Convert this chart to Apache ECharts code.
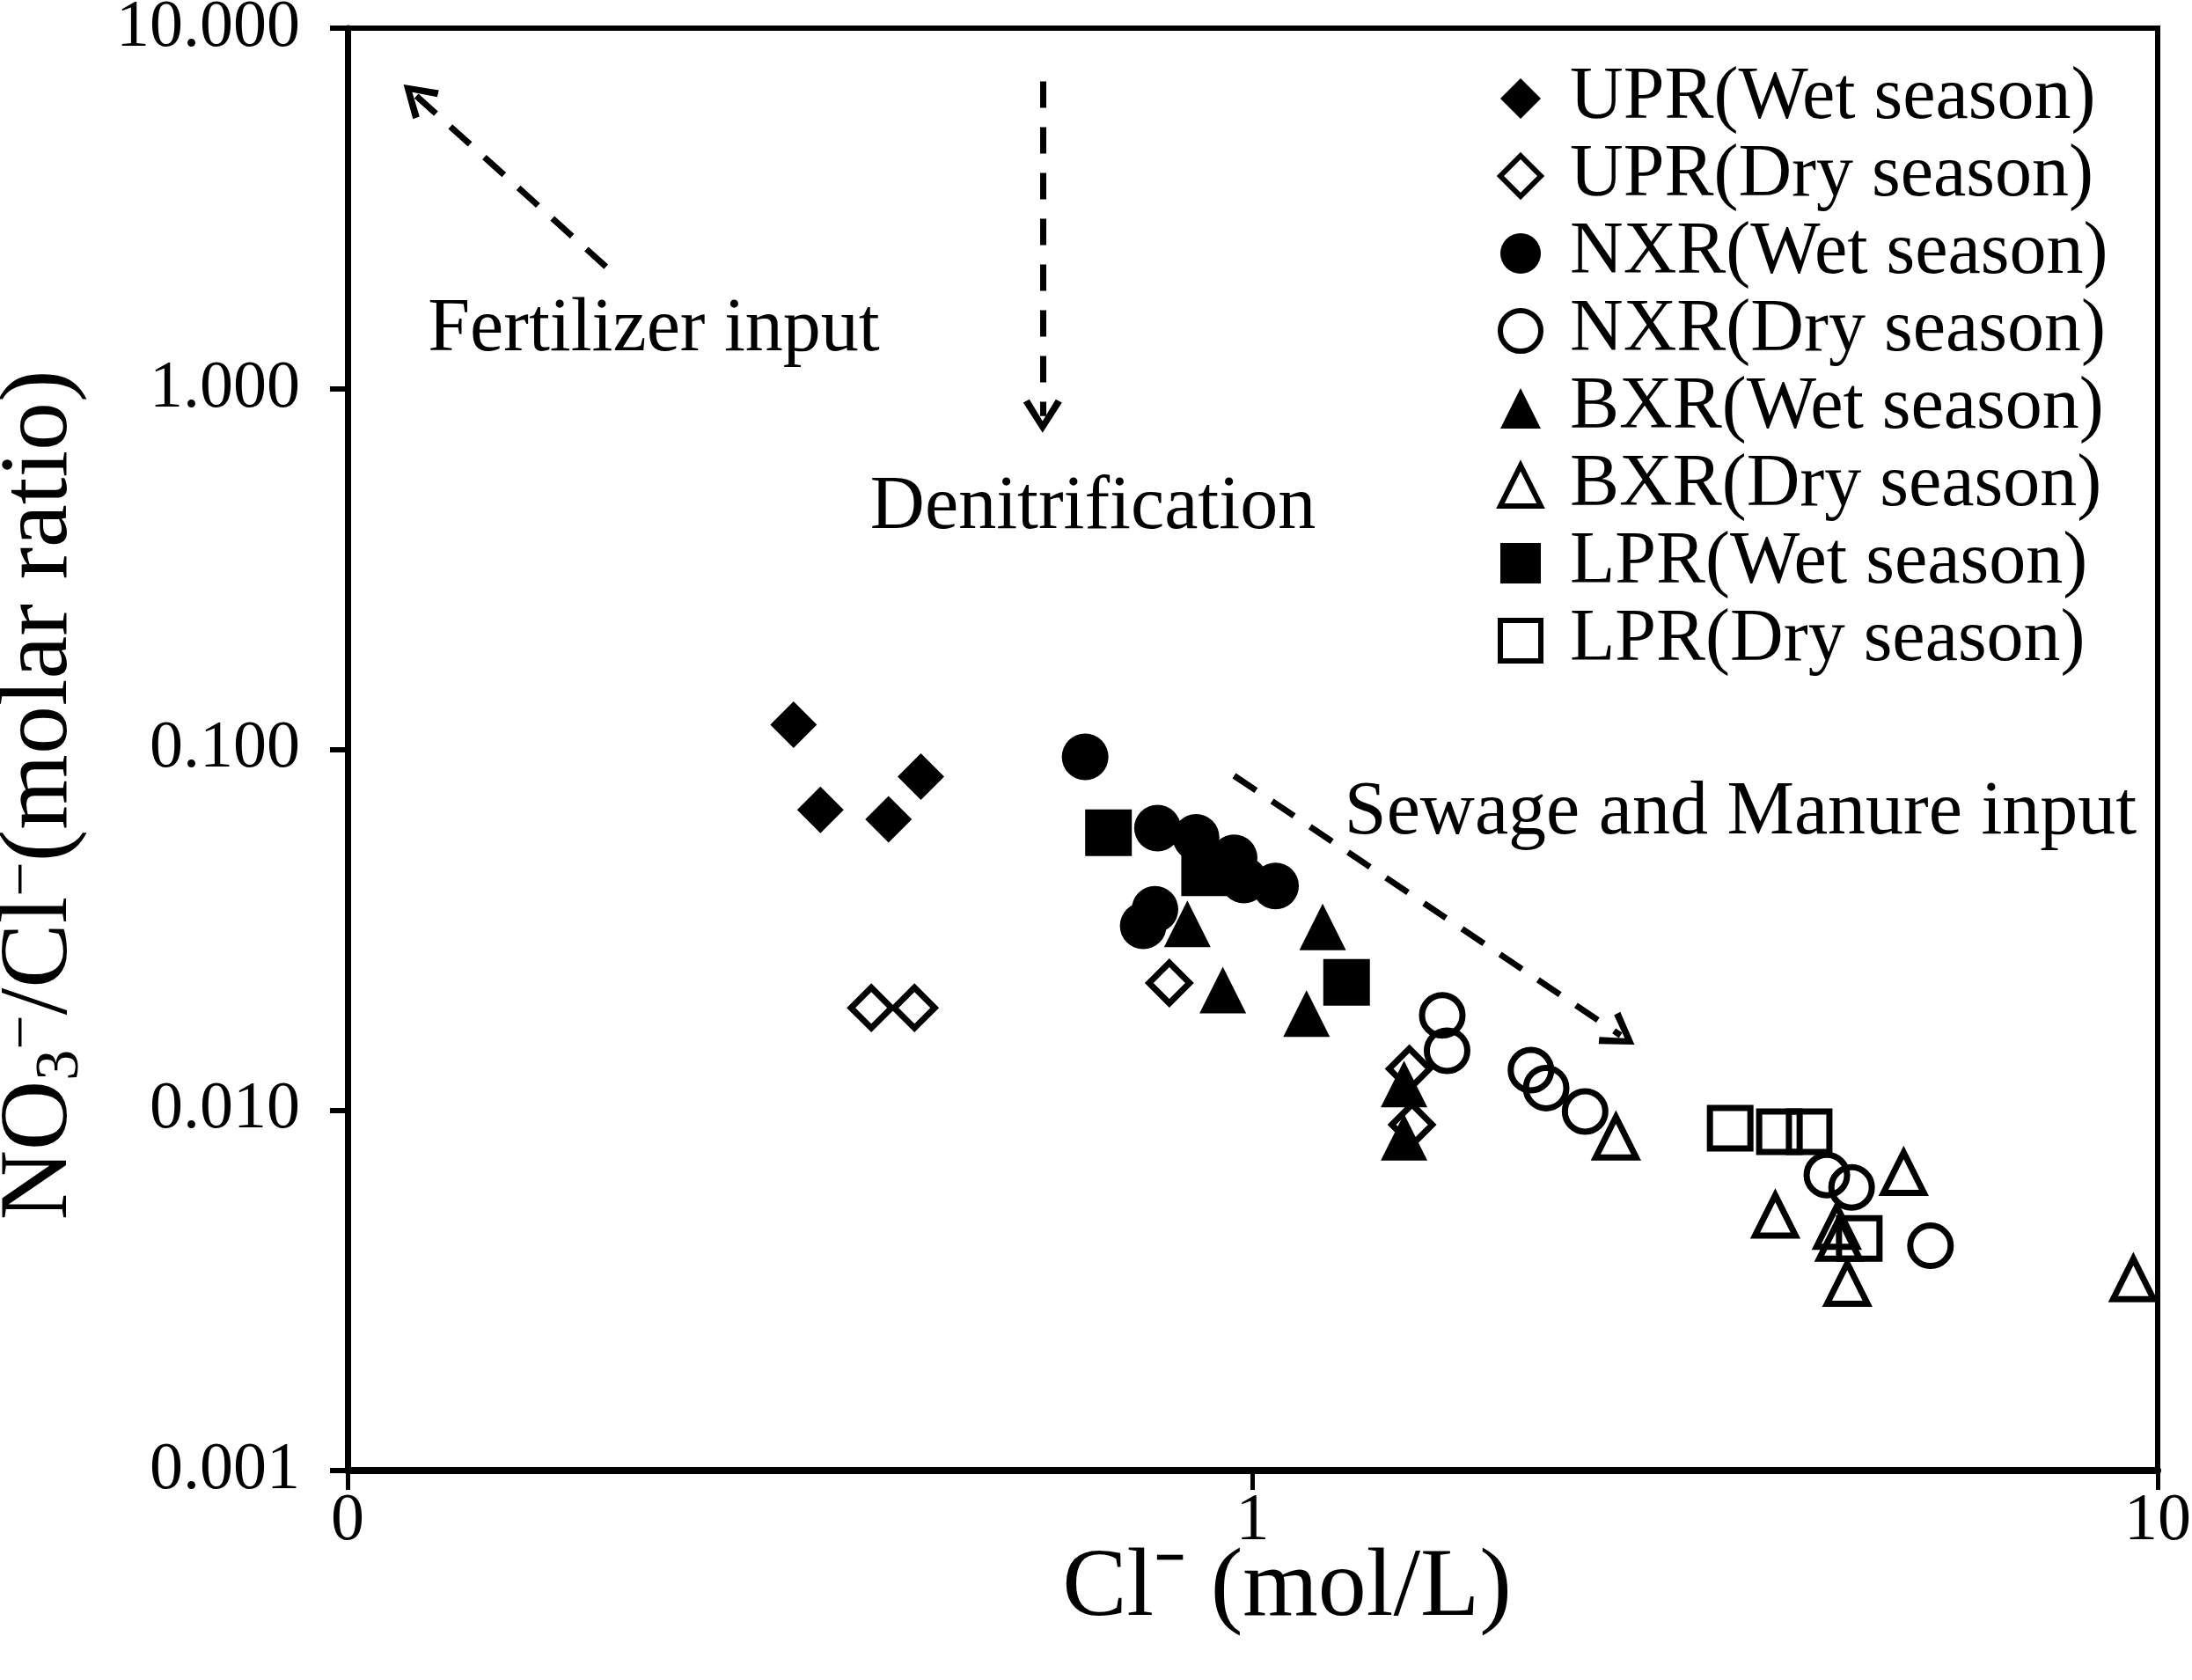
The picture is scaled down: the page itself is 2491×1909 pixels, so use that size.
<!DOCTYPE html>
<html>
<head>
<meta charset="utf-8">
<script src="https://cdn.jsdelivr.net/npm/echarts@6/dist/echarts.min.js"></script>
<style>
html,body{margin:0;padding:0;background:#fff;}
#chart{width:2491px;height:1909px;}
</style>
</head>
<body>
<div id="chart"></div>
<script>
// ---- data ----
const seriesNames = [
  'UPR(Wet season)', 'UPR(Dry season)', 'NXR(Wet season)', 'NXR(Dry season)',
  'BXR(Wet season)', 'BXR(Dry season)', 'LPR(Wet season)', 'LPR(Dry season)'
];
const uprWetX = [0.311, 0.333, 0.396, 0.430];
const uprWetY = [0.117, 0.068, 0.064, 0.084];
const uprDryX = [0.379, 0.423, 0.809, 1.49, 1.50];
const uprDryY = [0.0192, 0.0192, 0.0225, 0.0130, 0.0091];
const nxrWetX = [0.653, 0.785, 0.866, 0.954, 0.978, 1.060, 0.780, 0.757];
const nxrWetY = [0.0953, 0.0605, 0.0570, 0.0500, 0.0434, 0.0418, 0.0360, 0.0324];
const nxrDryX = [1.62, 1.64, 2.03, 2.11, 2.33, 4.31, 4.59, 5.61];
const nxrDryY = [0.0183, 0.0146, 0.0129, 0.0115, 0.0099, 0.0066, 0.0061, 0.0042];
const bxrWetX = [0.847, 0.927, 1.147, 1.195, 1.47, 1.47];
const bxrWetY = [0.0328, 0.0215, 0.0185, 0.0322, 0.0118, 0.0084];
const bxrDryX = [2.52, 3.78, 4.42, 4.45, 4.54, 5.24, 9.4];
const bxrDryY = [0.0084, 0.0051, 0.00475, 0.0044, 0.0033, 0.0067, 0.0034];
const lprWetX = [0.693, 0.885, 1.27];
const lprWetY = [0.0587, 0.0455, 0.0226];
const lprDryX = [3.37, 3.82, 4.12, 4.68];
const lprDryY = [0.0089, 0.0087, 0.0087, 0.0044];

const xTickLabels = ['0', '1', '10'];
const yTickDecimals = 3;

// annotation arrows [tail, head] in data units
const arrowLines = [
  [[0.193, 2.18], [0.119, 6.5]],
  [[0.586, 7.12], [0.586, 0.84]],
  [[0.954, 0.0845], [2.55, 0.0161]]
];
const annotationTexts = ['Fertilizer input', 'Denitrification', 'Sewage and Manure input'];

// ---- build ----
const FONT = '"Liberation Serif", "Times New Roman", serif';
const zip = (xs, ys) => xs.map((x, i) => [x, ys[i]]);
const seriesData = [
  zip(uprWetX, uprWetY), zip(uprDryX, uprDryY),
  zip(nxrWetX, nxrWetY), zip(nxrDryX, nxrDryY),
  zip(bxrWetX, bxrWetY), zip(bxrDryX, bxrDryY),
  zip(lprWetX, lprWetY), zip(lprDryX, lprDryY)
];
const symbols = ['diamond', 'diamond', 'circle', 'circle', 'triangle', 'triangle', 'rect', 'rect'];
const filled = [true, false, true, false, true, false, true, false];

const filledStyle = { color: '#000', borderWidth: 0, opacity: 1 };
const openStyle = { color: 'transparent', borderColor: '#000', borderWidth: 7, opacity: 1 };

const series = seriesNames.map((name, i) => ({
  name: name,
  type: 'scatter',
  symbol: symbols[i],
  symbolSize: filled[i] ? 53 : 46,
  data: seriesData[i],
  itemStyle: filled[i] ? filledStyle : openStyle,
  emphasis: { disabled: true },
  z: 3
}));

const chevron = 'path://M22,0 L44,36 L37,40 L22,14 L7,40 L0,36 Z';
series.push({
  name: 'annotations',
  type: 'scatter',
  data: [],
  silent: true,
  markLine: {
    silent: true,
    animation: false,
    symbol: ['none', chevron],
    symbolSize: [44, 38],
    label: { show: false },
    lineStyle: { color: '#000', width: 7, type: [30, 22] },
    emphasis: { disabled: true },
    data: arrowLines.map(l => [{ coord: l[0] }, { coord: l[1] }])
  }
});

const textPositions = [[743, 375], [1242, 577], [1978, 924]];
const graphic = annotationTexts.map((t, i) => ({
  type: 'text',
  x: textPositions[i][0],
  y: textPositions[i][1],
  silent: true,
  style: {
    text: t,
    fill: '#000',
    font: '86px ' + FONT,
    align: 'center',
    verticalAlign: 'middle'
  }
}));

const option = {
  backgroundColor: '#fff',
  animation: false,
  textStyle: { fontFamily: FONT, color: '#000' },
  grid: {
    left: 395, right: 39, top: 32, bottom: 238,
    containLabel: false,
    outerBoundsMode: 'none',
    show: true, borderColor: '#000', borderWidth: 6, backgroundColor: 'transparent'
  },
  legend: {
    orient: 'vertical',
    left: 1697,
    top: 63,
    itemWidth: 46,
    itemHeight: 46,
    itemGap: 0,
    selectedMode: false,
    textStyle: { fontFamily: FONT, fontSize: 84, lineHeight: 88, color: '#000', padding: [0, 0, 0, 28] },
    data: seriesNames.map((n, i) => ({
      name: n,
      icon: symbols[i],
      itemStyle: filled[i]
        ? { color: '#000', borderWidth: 0 }
        : { color: 'transparent', borderColor: '#000', borderWidth: 6 }
    }))
  },
  xAxis: {
    type: 'log',
    logBase: 10,
    min: 0.1,
    max: 10,
    name: 'Cl\u207B (mol/L)',
    nameLocation: 'middle',
    nameGap: 80,
    nameMoveOverlap: false,
    nameTextStyle: { fontFamily: FONT, fontSize: 110, color: '#000', padding: [0, 0, 0, 78] },
    axisLine: { show: true, onZero: false, lineStyle: { color: '#000', width: 8 } },
    axisTick: { show: true, inside: false, length: 22, lineStyle: { color: '#000', width: 5 } },
    minorTick: { show: false },
    splitLine: { show: false },
    axisLabel: {
      fontFamily: FONT, fontSize: 76, color: '#000', margin: 20,
      formatter: (v, idx) => xTickLabels[idx] !== undefined ? xTickLabels[idx] : ''
    }
  },
  yAxis: {
    type: 'log',
    logBase: 10,
    min: 0.001,
    max: 10,
    name: '{n|NO}{sub|3}{sup|\u2212}{n|/Cl}{sup|\u2212}{n|(molar ratio)}',
    nameLocation: 'middle',
    nameGap: 282,
    nameMoveOverlap: false,
    nameTextStyle: {
      fontFamily: FONT, fontSize: 110, color: '#000',
      padding: [0, 104, 0, 0],
      rich: {
        n: { fontFamily: FONT, fontSize: 110, lineHeight: 134, verticalAlign: 'middle' },
        sub: { fontFamily: FONT, fontSize: 70, lineHeight: 70, verticalAlign: 'bottom', padding: [0, 0, 8, 0] },
        sup: { fontFamily: FONT, fontSize: 70, lineHeight: 70, verticalAlign: 'top', padding: [14, 0, 0, 0] }
      }
    },
    axisLine: { show: true, onZero: false, lineStyle: { color: '#000', width: 7 } },
    axisTick: { show: true, inside: false, length: 20, lineStyle: { color: '#000', width: 6 } },
    minorTick: { show: false },
    splitLine: { show: false },
    axisLabel: {
      fontFamily: FONT, fontSize: 76, color: '#000', margin: 54,
      formatter: v => Number(v).toFixed(yTickDecimals)
    }
  },
  graphic: graphic,
  series: series
};

const chart = echarts.init(document.getElementById('chart'), null, { renderer: 'canvas' });
chart.setOption(option);
</script>
</body>
</html>
